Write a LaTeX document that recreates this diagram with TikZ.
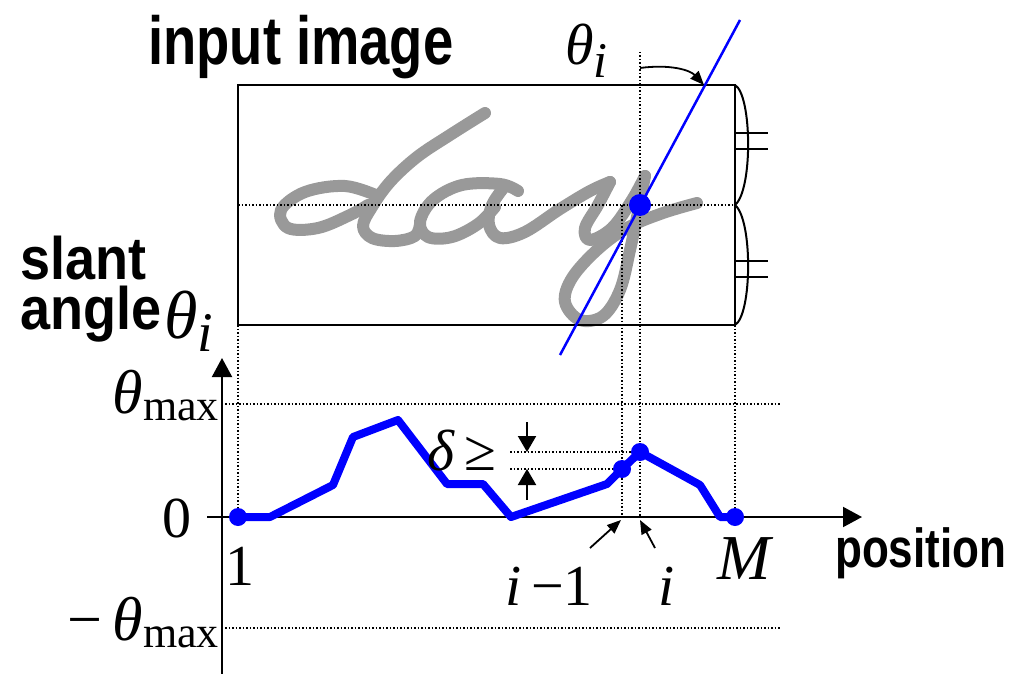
\documentclass[tikz,border=0pt]{standalone}
\usepackage{fontspec}
\setmainfont{Liberation Serif}
\newfontfamily\labelfont[FakeStretch=0.8]{Liberation Sans}
\newfontfamily\widefont[FakeStretch=0.9]{Liberation Sans}
\usetikzlibrary{arrows.meta}
\definecolor{inkgray}{HTML}{999999}
\definecolor{plotblue}{HTML}{0000FF}
\newcommand\lowered[3]{\raisebox{-#1}{\fontsize{#2}{#2}\selectfont #3}}

\begin{document}
\begin{tikzpicture}[
    x=1pt, y=-1pt,
    every node/.style={inner sep=0pt},
    frame/.style={draw, line width=2pt},
    dotline/.style={line width=1.5pt, dash pattern=on 1.5pt off 2pt},
    ink/.style={draw=inkgray, line width=12pt, line cap=round, line join=round},
    axis/.style={line width=2pt, -{Triangle[length=19pt,width=20pt]}},
    curve/.style={draw=plotblue, line width=8pt, line join=round},
    dot/.style={circle, fill=plotblue, minimum size=18pt},
    mlabel/.style={font=\fontsize{58}{60}\selectfont},
    ilabel/.style={font=\fontsize{58}{60}\selectfont\itshape},
    tlabel/.style={font=\labelfont\bfseries\fontsize{68}{70}\selectfont},
    pointer/.style={line width=1.8pt, -{Triangle[length=14pt,width=11pt]}},
    gap/.style={line width=2pt, -{Triangle[length=16pt,width=18pt]}}
]
    \useasboundingbox (0,0) rectangle (1012,674);

    % input image frame
    \coordinate (imgNW) at (238,85);
    \coordinate (imgNE) at (735,85);
    \coordinate (imgSE) at (735,325);
    \coordinate (imgSW) at (238,325);
    \coordinate (midW) at (238,205);
    \coordinate (midE) at (735,205);

    % handwritten "day"
    \draw[ink] plot[smooth, tension=0.6] coordinates {(378,196) (345,186) (305,192) (281,210) (288,228) (318,228) (350,215) (368,205)};
    \draw[ink] plot[smooth, tension=0.6] coordinates {(485,113) (450,135) (417,157) (390,182) (372,207) (363,226) (372,238) (395,241) (415,236) (420,224)};
    \draw[ink] plot[smooth, tension=0.6] coordinates {(518,191) (500,184) (462,185) (433,200) (420,222) (428,237) (452,237) (478,224) (495,207)};
    \draw[ink] plot[smooth, tension=0.6] coordinates {(505,186) (492,205) (489,225) (500,238) (525,232) (560,209) (590,191) (610,182)};
    \draw[ink] plot[smooth, tension=0.6] coordinates {(610,182) (598,205) (585,228) (590,240) (612,228) (632,200) (645,176)};
    \draw[ink] plot[smooth, tension=0.6] coordinates {(645,176) (638,212) (630,250) (620,290) (603,316) (580,320) (565,302) (572,278) (597,250) (627,228) (663,213) (697,203)};

    \draw[frame] (imgNW) rectangle (imgSE);
    \draw[dotline] (midW) -- (midE);

    % braces on the right
    \draw[line width=2pt] (imgNE) .. controls (752,95) and (753,190) .. (midE)
        .. controls (753,220) and (752,315) .. (imgSE);
    \draw[line width=2pt] (735,133) -- (768,133) (735,149) -- (768,149)
        (735,261) -- (768,261) (735,277) -- (768,277);

    % plot axes
    \coordinate (ybot) at (222,674);
    \coordinate (ytop) at (222,358);
    \coordinate (xleft) at (207,517);
    \coordinate (xright) at (862,517);
    \draw[axis] (ybot) -- (ytop);
    \draw[axis] (xleft) -- (xright);

    % guide lines
    \draw[dotline] (225,404) -- (780,404);
    \draw[dotline] (225,628) -- (780,628);
    \draw[dotline] (510,452) -- (640,452);
    \draw[dotline] (510,469) -- (622,469);
    \draw[dotline] (imgSW) -- (238,517);
    \draw[dotline] (imgSE) -- (735,517);
    \draw[dotline] (622,205) -- (622,517);
    \draw[dotline] (640,52) -- (640,517);

    % slant line
    \coordinate (slb) at (560,355);
    \coordinate (slt) at (740,20);
    \draw[draw=plotblue, line width=2.5pt] (slb) -- (slt);
    \node[dot, minimum size=22pt] (center) at (640,205) {};

    % slant angle curve
    \coordinate (p1) at (238,517);
    \coordinate (p2) at (270,517);
    \coordinate (p3) at (333,485);
    \coordinate (p4) at (353,437);
    \coordinate (p5) at (398,420);
    \coordinate (p6) at (447,484);
    \coordinate (p7) at (483,484);
    \coordinate (p8) at (511,517);
    \coordinate (p9) at (607,484);
    \coordinate (p10) at (622,469);
    \coordinate (p11) at (640,452);
    \coordinate (p12) at (700,485);
    \coordinate (p13) at (720,517);
    \coordinate (p14) at (735,517);
    \draw[curve] (p1) -- (p2) -- (p3) -- (p4) -- (p5) -- (p6) -- (p7) -- (p8)
        -- (p9) -- (p10) -- (p11) -- (p12) -- (p13) -- (p14);
    \node[dot] (first) at (p1) {};
    \node[dot] (prev) at (p10) {};
    \node[dot] (cur) at (p11) {};
    \node[dot] (last) at (p14) {};

    % delta marks
    \coordinate (dtop) at (527,422);
    \coordinate (dhi) at (527,452);
    \coordinate (dbot) at (527,500);
    \coordinate (dlo) at (527,469);
    \draw[gap] (dtop) -- (dhi);
    \draw[gap] (dbot) -- (dlo);

    % index pointers
    \coordinate (prevtip) at (621,520);
    \coordinate (curtip) at (640,520);
    \coordinate (prevtail) at (590,548);
    \coordinate (curtail) at (655,548);
    \draw[pointer] (prevtail) -- (prevtip);
    \draw[pointer] (curtail) -- (curtip);

    % angle pointer
    \coordinate (ti) at (640,68);
    \coordinate (cross) at (704,85);
    \draw[pointer] (ti) .. controls (670,64) and (690,70) .. (cross);

    % labels
    \node[tlabel, anchor=base west] (inlbl) at (148,65) {input image};
    \node[font=\widefont\bfseries\fontsize{60}{50}\selectfont, align=left, anchor=north west] (slantlbl) at (20,236) {slant\\angle};
    \node[anchor=base west, font=\fontsize{68}{70}\selectfont\itshape] (thetay) at (164,338) {θ\lowered{13pt}{56}{i}};
    \node[ilabel, anchor=base west] (thetatop) at (565,65) {θ\lowered{13pt}{50}{i}};
    \node[anchor=base east, font=\fontsize{62}{64}\selectfont] (tmax) at (219,413) {\textit{θ}\lowered{7pt}{44}{max}};
    \node[mlabel, anchor=base east] (zero) at (192,537) {0};
    \node[anchor=base east, font=\fontsize{62}{64}\selectfont] (tmin) at (219,640) {−\,\textit{θ}\lowered{7pt}{44}{max}};
    \node[mlabel, anchor=base] (one) at (240,585) {1};
    \node[anchor=base, font=\fontsize{64}{68}\selectfont\itshape] (mlbl) at (744,579) {M};
    \node[mlabel, anchor=base] (im1) at (549,605) {\textit{i}\,−1};
    \node[ilabel, anchor=base] (ilbl) at (667,605) {i};
    \node[mlabel, anchor=base] (delta) at (462,470) {\textit{δ}\,≥};
    \node[font=\labelfont\bfseries\fontsize{55}{58}\selectfont, anchor=base west] (poslbl) at (835,567) {position};
\end{tikzpicture}
\end{document}
